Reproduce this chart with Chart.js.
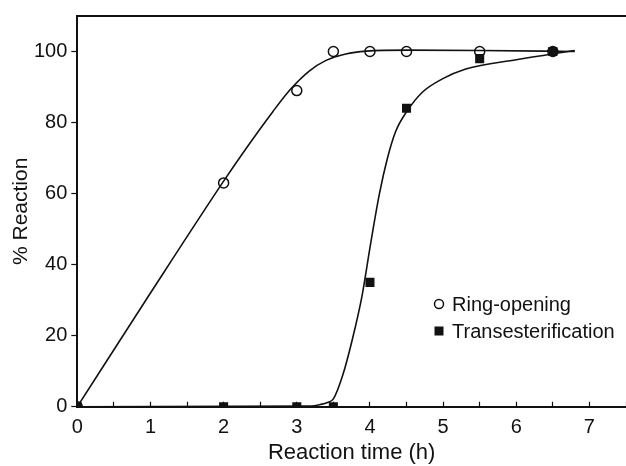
<!DOCTYPE html>
<html>
<head>
<meta charset="utf-8">
<script src="https://cdn.jsdelivr.net/npm/chart.js@4.4.1/dist/chart.umd.min.js"></script>
<style>
  html, body { margin: 0; padding: 0; background: #fff; }
  #wrap { width: 626px; height: 466px; }
</style>
</head>
<body>
<div id="wrap"><canvas id="chart"></canvas></div>
<script>
// measured points
const ringX = [0, 2, 3, 3.5, 4, 4.5, 5.5, 6.5];
const ringY = [0, 63, 89, 100, 100, 100, 100, 100];
const transX = [0, 2, 3, 3.5, 4, 4.5, 5.5, 6.5];
const transY = [0, 0, 0, 0, 35, 84, 98, 100];

// fitted curves
const ringFitX = [0, 1, 2, 2.3, 2.67, 2.92, 3.17, 3.4, 3.67, 3.95, 4.5, 5.5, 6.8];
const ringFitY = [0, 32, 63.5, 72.5, 83, 89.5, 94.5, 97.5, 99.3, 100.1, 100.4, 100.3, 100];
const transFitX = [0, 3.2, 3.32, 3.42, 3.5, 3.63, 3.76, 3.89, 4.01, 4.13, 4.24, 4.35, 4.5, 4.72, 4.99, 5.31, 6, 6.8];
const transFitY = [0, 0.2, 0.6, 1.2, 2.2, 9, 19, 31, 46, 60, 70, 77.4, 83, 88.6, 92.3, 95.1, 97.7, 100.3];

const seriesNames = ['Ring-opening', 'Transesterification'];
const xTitle = 'Reaction time (h)';
const yTitle = '% Reaction';

const FONT = "'Liberation Sans', Arial, Helvetica, sans-serif";
const INK = '#111';

const pts = (xs, ys) => xs.map((x, i) => ({ x: x, y: ys[i] }));

// top frame line
const frameTop = {
    id: 'frameTop',
    afterDraw(chart) {
        const { ctx, chartArea } = chart;
        ctx.save();
        ctx.strokeStyle = INK;
        ctx.lineWidth = 2;
        ctx.beginPath();
        ctx.moveTo(chartArea.left - 1, chartArea.top);
        ctx.lineTo(chartArea.right, chartArea.top);
        ctx.stroke();
        ctx.restore();
    }
};

// legend sits inside the plot, lower right
const innerLegend = {
    id: 'innerLegend',
    afterDraw(chart) {
        const ctx = chart.ctx;
        const mx = 439, tx = 452;
        const rows = [304, 331];
        ctx.save();
        ctx.font = '20px ' + FONT;
        ctx.fillStyle = INK;
        ctx.strokeStyle = INK;
        ctx.textBaseline = 'middle';
        ctx.lineWidth = 1.5;
        ctx.beginPath();
        ctx.arc(mx, rows[0], 4.5, 0, Math.PI * 2);
        ctx.stroke();
        ctx.fillRect(mx - 4.5, rows[1] - 4.5, 9, 9);
        ctx.fillText(seriesNames[0], tx, rows[0] + 1);
        ctx.fillText(seriesNames[1], tx, rows[1] + 1);
        ctx.restore();
    }
};

new Chart(document.getElementById('chart'), {
    type: 'scatter',
    data: {
        datasets: [
            {
                label: seriesNames[0],
                data: pts(ringX, ringY),
                pointStyle: 'circle',
                pointRadius: 5,
                pointBorderWidth: 1.5,
                pointBorderColor: INK,
                pointBackgroundColor: 'rgba(0,0,0,0)',
                order: 0
            },
            {
                label: seriesNames[1],
                data: pts(transX, transY),
                pointStyle: 'rect',
                pointRadius: 6.4,
                pointBorderWidth: 0,
                pointBackgroundColor: INK,
                order: 1
            },
            {
                label: 'fit1',
                data: pts(ringFitX, ringFitY),
                showLine: true,
                pointRadius: 0,
                borderColor: INK,
                borderWidth: 1.6,
                cubicInterpolationMode: 'monotone',
                order: 2
            },
            {
                label: 'fit2',
                data: pts(transFitX, transFitY),
                showLine: true,
                pointRadius: 0,
                borderColor: INK,
                borderWidth: 1.6,
                cubicInterpolationMode: 'monotone',
                order: 2
            }
        ]
    },
    options: {
        responsive: true,
        maintainAspectRatio: false,
        animation: false,
        layout: { autoPadding: false, padding: { top: 13, right: 0, left: 0, bottom: 0 } },
        scales: {
            x: {
                type: 'linear',
                min: 0,
                max: 7.5,
                afterFit: (s) => { s.height = 59.3; s.paddingLeft = 0; s.paddingRight = 0; },
                border: { color: INK, width: 2 },
                grid: { drawOnChartArea: false, tickLength: -5, tickWidth: 1.2, tickColor: INK },
                ticks: {
                    stepSize: 0.5,
                    includeBounds: false,
                    autoSkip: false,
                    maxRotation: 0,
                    padding: 14,
                    color: INK,
                    font: { family: FONT, size: 20 },
                    callback: (v) => (Number.isInteger(v) ? String(v) : '')
                },
                title: {
                    display: true,
                    text: xTitle,
                    color: INK,
                    font: { family: FONT, size: 22 },
                    padding: { top: 0, bottom: 0 }
                }
            },
            y: {
                min: 0,
                max: 110,
                afterFit: (s) => { s.width = 77.3; },
                border: { color: INK, width: 2 },
                grid: { drawOnChartArea: false, tickLength: 6, tickWidth: 1.2, tickColor: INK },
                ticks: {
                    stepSize: 20,
                    includeBounds: false,
                    padding: 4,
                    color: INK,
                    font: { family: FONT, size: 20 }
                },
                title: {
                    display: true,
                    text: yTitle,
                    color: INK,
                    font: { family: FONT, size: 21 },
                    padding: { top: 9, bottom: 0 }
                }
            }
        },
        plugins: {
            legend: { display: false },
            tooltip: { enabled: false }
        }
    },
    plugins: [frameTop, innerLegend]
});
</script>
</body>
</html>
